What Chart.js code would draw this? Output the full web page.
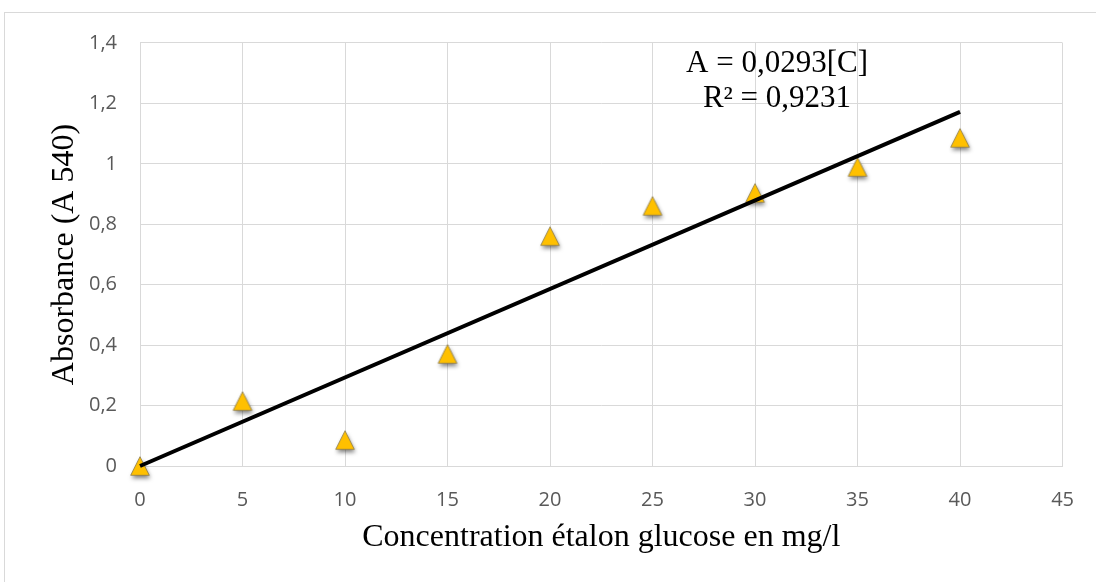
<!DOCTYPE html>
<html>
<head>
<meta charset="utf-8">
<script src="https://cdn.jsdelivr.net/npm/chart.js@4/dist/chart.umd.min.js"></script>
<style>
  html, body { margin: 0; padding: 0; background: #ffffff; }
  #wrap { position: relative; width: 1096px; height: 582px; }
</style>
</head>
<body>
<div id="wrap"><canvas id="c" width="1096" height="582"></canvas></div>
<script>
// ---- Data ----
const concentrations = [0, 5, 10, 15, 20, 25, 30, 35, 40];
const absorbance = [0, 0.215, 0.086, 0.371, 0.761, 0.861, 0.904, 0.99, 1.086];
const trendX = [0, 40];
const trendY = [0, 1.172];
const xTickLabels = ['0', '5', '10', '15', '20', '25', '30', '35', '40', '45'];
const yTickLabels = ['0', '0,2', '0,4', '0,6', '0,8', '1', '1,2', '1,4'];
const xTitle = 'Concentration étalon glucose en mg/l';
const yTitle = 'Absorbance (A 540)';
const equationLines = ['A = 0,0293[C]', 'R² = 0,9231'];
const equationAnchor = [31.07, 1.304, 1.188]; // x value, baseline y values

// ---- Marker image (triangle with soft shadow) ----
function makeTriangle() {
  const cv = document.createElement('canvas');
  cv.width = 40; cv.height = 40;
  const g = cv.getContext('2d');
  const cx = 20, cy = 20, h = 9.3;
  g.shadowColor = 'rgba(0,0,0,0.5)';
  g.shadowBlur = 4;
  g.shadowOffsetX = 1;
  g.shadowOffsetY = 3;
  g.beginPath();
  g.moveTo(cx, cy - h);
  g.lineTo(cx + h, cy + h);
  g.lineTo(cx - h, cy + h);
  g.closePath();
  g.fillStyle = '#FFC000';
  g.fill();
  g.shadowColor = 'transparent';
  g.lineWidth = 0.8;
  g.strokeStyle = '#8a7a4a';
  g.stroke();
  return cv;
}
const tri = makeTriangle();

const gridColor = '#d9d9d9';
const tickFont = { family: '"Open Sans", sans-serif', size: 20 };
const titleFont = { family: '"Liberation Serif", "Times New Roman", serif', size: 32 };

const framePlugin = {
  id: 'frame',
  beforeDraw(chart) {
    const ctx = chart.ctx;
    ctx.save();
    ctx.fillStyle = '#ffffff';
    ctx.fillRect(0, 0, chart.width, chart.height);
    ctx.strokeStyle = '#d9d9d9';
    ctx.lineWidth = 1;
    ctx.strokeRect(4.5, 12.5, 1200, 700);
    ctx.restore();
  }
};

const equationPlugin = {
  id: 'equation',
  afterDraw(chart) {
    const ctx = chart.ctx;
    const xs = chart.scales.x, ys = chart.scales.y;
    ctx.save();
    ctx.font = '31px "Liberation Serif", "Times New Roman", serif';
    ctx.fillStyle = '#000000';
    ctx.textAlign = 'center';
    ctx.textBaseline = 'alphabetic';
    const px = xs.getPixelForValue(equationAnchor[0]);
    ctx.fillText(equationLines[0], px, ys.getPixelForValue(equationAnchor[1]));
    ctx.fillText(equationLines[1], px, ys.getPixelForValue(equationAnchor[2]));
    ctx.restore();
  }
};

new Chart(document.getElementById('c'), {
  type: 'scatter',
  data: {
    datasets: [
      {
        type: 'line',
        label: 'Tendance',
        data: trendX.map((x, i) => ({ x: x, y: trendY[i] })),
        borderColor: '#000000',
        borderWidth: 4,
        pointRadius: 0,
        fill: false,
        clip: false
      },
      {
        label: 'Absorbance',
        data: concentrations.map((x, i) => ({ x: x, y: absorbance[i] })),
        pointStyle: tri,
        pointRadius: 9,
        clip: false
      }
    ]
  },
  options: {
    responsive: false,
    animation: false,
    devicePixelRatio: 1,
    layout: { padding: { left: 0, top: 43, right: 32, bottom: 0 } },
    plugins: { legend: { display: false }, tooltip: { enabled: false } },
    scales: {
      x: {
        type: 'linear',
        min: 0, max: 45,
        afterFit(s) { s.height = 116; },
        afterBuildTicks(s) { s.ticks = xTickLabels.map((_, i) => ({ value: i * 5 })); },
        grid: { color: gridColor, lineWidth: 1, drawTicks: false },
        border: { color: gridColor, width: 1 },
        ticks: {
          padding: 22,
          color: '#595959',
          font: tickFont,
          callback: (v, i) => xTickLabels[i]
        },
        title: {
          display: true,
          text: xTitle,
          color: '#000000',
          font: titleFont,
          padding: { top: 0, bottom: 25 }
        }
      },
      y: {
        type: 'linear',
        min: 0, max: 1.4,
        afterFit(s) { s.width = 140; },
        afterBuildTicks(s) { s.ticks = yTickLabels.map((_, i) => ({ value: i * 0.2 })); },
        grid: { color: gridColor, lineWidth: 1, drawTicks: false },
        border: { display: false },
        ticks: {
          padding: 23,
          color: '#595959',
          font: tickFont,
          callback: (v, i) => yTickLabels[i]
        },
        title: {
          display: true,
          text: yTitle,
          color: '#000000',
          font: titleFont,
          padding: { top: 45, bottom: 0 }
        }
      }
    }
  },
  plugins: [framePlugin, equationPlugin]
});
</script>
</body>
</html>
